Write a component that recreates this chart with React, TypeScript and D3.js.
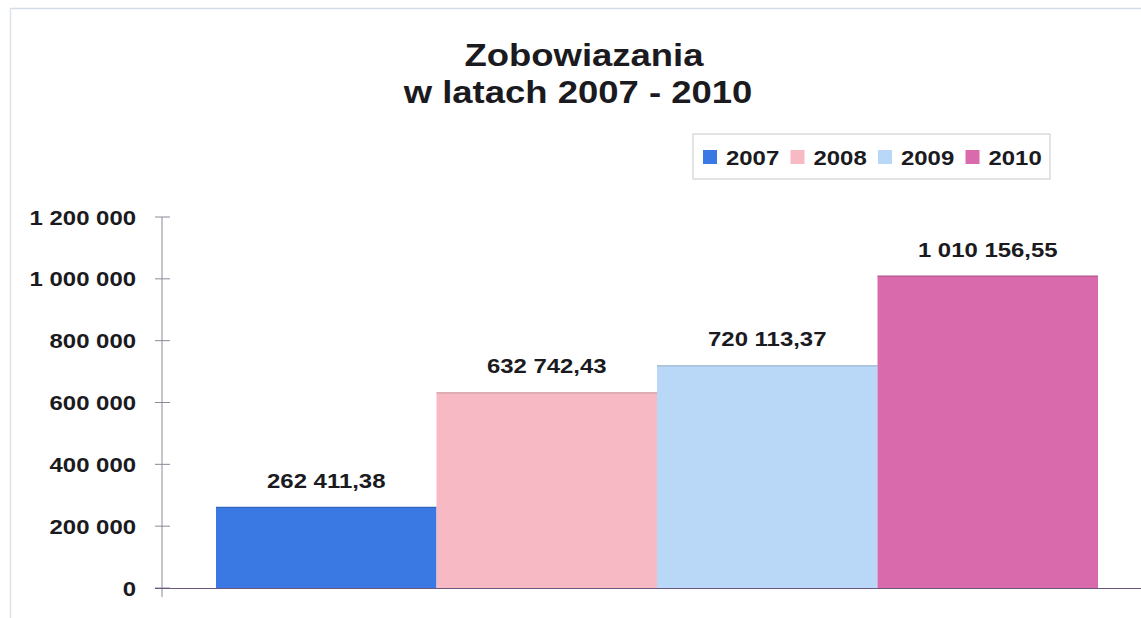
import React from "react";
import * as d3 from "d3";

const years = ["2007", "2008", "2009", "2010"];
const values = [262411.38, 632742.43, 720113.37, 1010156.55];
const valueLabels = ["262 411,38", "632 742,43", "720 113,37", "1 010 156,55"];
const colors = ["#3a79e3", "#f7b9c4", "#b9d8f7", "#d96aac"];
const yTicks = [0, 200000, 400000, 600000, 800000, 1000000, 1200000];
const yTickLabels = ["0", "200 000", "400 000", "600 000", "800 000", "1 000 000", "1 200 000"];
const titleLines = ["Zobowiazania", "w latach 2007 - 2010"];

const W = 1141;
const H = 618;
const FONT = "'Liberation Sans', Arial, sans-serif";
const SX = 1.14;

function T(props: {
  x: number;
  y: number;
  size: number;
  anchor?: string;
  children: React.ReactNode;
}) {
  const { x, y, size, anchor = "middle", children } = props;
  return (
    <text
      transform={`translate(${x},${y}) scale(${SX},1)`}
      fontFamily={FONT}
      fontWeight="bold"
      fontSize={size}
      fill="#1b1b1f"
      textAnchor={anchor}
    >
      {children}
    </text>
  );
}

export default function App() {
  React.useEffect(() => {
    document.body.style.margin = "0";
  }, []);

  const plotLeft = 162;
  const plotRight = 1152;
  const plotTop = 217;
  const plotBottom = 588;
  const groupInset = 54;

  const y = d3.scaleLinear().domain([0, 1200000]).range([plotBottom, plotTop]);
  const x = d3
    .scaleBand<string>()
    .domain(years)
    .range([plotLeft + groupInset, plotRight - groupInset])
    .padding(0);

  const legendX = 693;
  const legendY = 134;
  const legendW = 357;
  const legendH = 45;
  const itemStep = 87.5;

  return (
    <svg
      width={W}
      height={H}
      style={{ position: "absolute", left: 0, top: 0, display: "block", background: "#fff" }}
    >
      <rect x={0} y={0} width={W} height={H} fill="#ffffff" />
      {/* frame */}
      <line x1={10} y1={8.5} x2={W} y2={8.5} stroke="#d5dbe6" strokeWidth={1.5} />
      <line x1={10.5} y1={8} x2={10.5} y2={H} stroke="#dde2ea" strokeWidth={1.5} />

      {/* title */}
      <T x={584} y={66} size={32}>{titleLines[0]}</T>
      <T x={578} y={103} size={32}>{titleLines[1]}</T>

      {/* legend */}
      <rect
        x={legendX}
        y={legendY}
        width={legendW}
        height={legendH}
        fill="#fff"
        stroke="#c9c9cf"
        strokeWidth={1}
      />
      {years.map((yr, i) => (
        <g key={yr}>
          <rect
            x={legendX + 10 + i * itemStep}
            y={legendY + 16}
            width={14}
            height={14}
            fill={colors[i]}
          />
          <T x={legendX + 33 + i * itemStep} y={legendY + 30.5} size={21} anchor="start">
            {yr}
          </T>
        </g>
      ))}

      {/* bars */}
      {years.map((yr, i) => (
        <g key={yr}>
          <rect
            x={x(yr)!}
            y={y(values[i])}
            width={x.bandwidth()}
            height={plotBottom - y(values[i])}
            fill={colors[i]}
          />
          <line
            x1={x(yr)!}
            x2={x(yr)! + x.bandwidth()}
            y1={y(values[i]) + 0.5}
            y2={y(values[i]) + 0.5}
            stroke={d3.color(colors[i])!.darker(0.6).toString()}
            strokeWidth={1}
          />
          <T x={x(yr)! + x.bandwidth() / 2} y={y(values[i]) - 19} size={21}>
            {valueLabels[i]}
          </T>
        </g>
      ))}

      {/* y axis */}
      <line x1={plotLeft} x2={plotLeft} y1={plotTop} y2={plotBottom + 9} stroke="#8a8a98" strokeWidth={1} />
      {yTicks.map((t, i) => (
        <g key={t}>
          <line x1={plotLeft - 7} x2={plotLeft + 8} y1={y(t)} y2={y(t)} stroke="#8a8a98" strokeWidth={1} />
          <T x={136} y={y(t) + 7.5} size={21} anchor="end">
            {yTickLabels[i]}
          </T>
        </g>
      ))}
      {/* x axis */}
      <line x1={plotLeft - 7} x2={W} y1={plotBottom + 0.5} y2={plotBottom + 0.5} stroke="#6a5a80" strokeWidth={1.2} />
    </svg>
  );
}
